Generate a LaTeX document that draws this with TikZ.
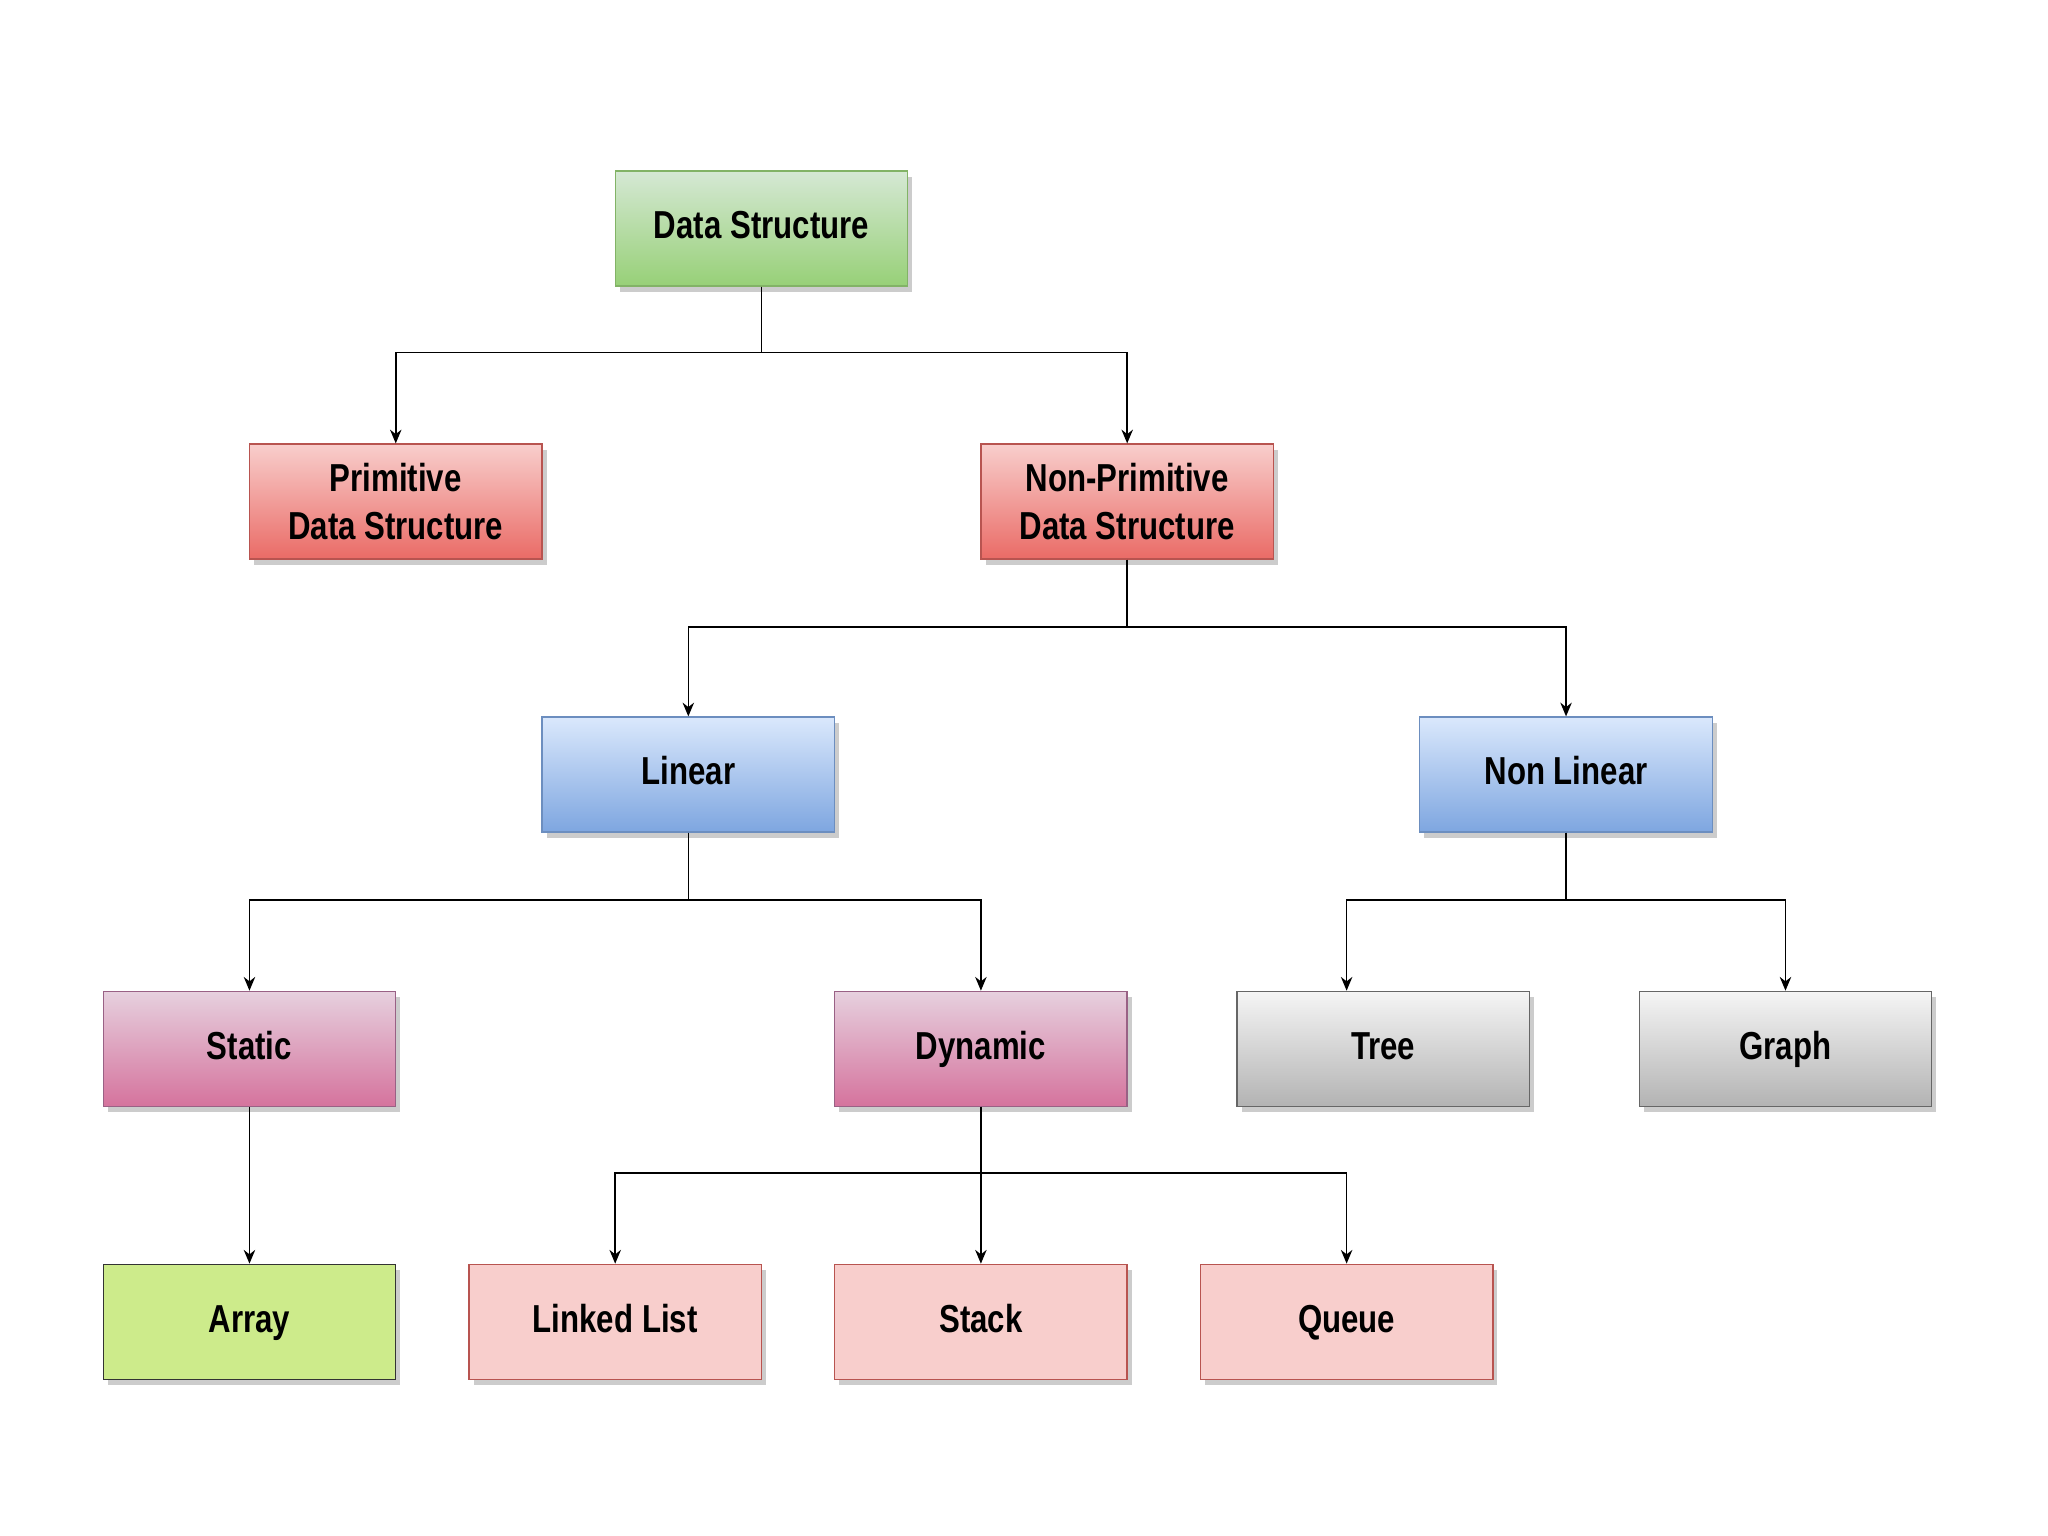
\documentclass[tikz,border=0pt]{standalone}
\usepackage{fontspec}
\setmainfont{Liberation Sans}[FakeStretch=0.8]
\usetikzlibrary{shadows,arrows.meta}
\definecolor{gT}{HTML}{D5E8D4}\definecolor{gB}{HTML}{97D077}\definecolor{gD}{HTML}{82B366}
\definecolor{rT}{HTML}{F8CECC}\definecolor{rB}{HTML}{EA6B66}\definecolor{rD}{HTML}{B85450}
\definecolor{bT}{HTML}{DAE8FC}\definecolor{bB}{HTML}{7EA6E0}\definecolor{bD}{HTML}{6C8EBF}
\definecolor{pT}{HTML}{E6D0DE}\definecolor{pB}{HTML}{D5739D}\definecolor{pD}{HTML}{996185}
\definecolor{yT}{HTML}{F5F5F5}\definecolor{yB}{HTML}{B3B3B3}\definecolor{yD}{HTML}{666666}
\definecolor{aF}{HTML}{CDEB8B}\definecolor{lF}{HTML}{F8CECC}
\begin{document}
\begin{tikzpicture}[x=0.02cm,y=-0.02cm,
 box/.style={minimum width=4.48cm,minimum height=1.76cm,draw,align=center,font=\fontsize{17}{21}\selectfont\bfseries,
   drop shadow={shadow xshift=2pt,shadow yshift=-2.5pt,fill=black!40,opacity=0.5},line width=0.6pt},
 one/.style={text height=12pt,text depth=3pt},
 g/.style={box,one,draw=gD,top color=gT,bottom color=gB},
 r/.style={box,draw=rD,top color=rT,bottom color=rB},
 b/.style={box,one,draw=bD,top color=bT,bottom color=bB},
 p/.style={box,one,draw=pD,top color=pT,bottom color=pB},
 gr/.style={box,one,draw=yD,top color=yT,bottom color=yB},
 lp/.style={box,one,draw=rD,fill=lF},
 ar/.style={box,one,draw=black!80,fill=aF},
 c/.style={draw,line width=0.7pt,-{Stealth[length=6pt,width=5pt]}}]
\useasboundingbox (0,0) rectangle (1568,1176);
\node[g] (ds) at (583,175) {Data Structure};
\node[r] (pr) at (303,384) {Primitive\\Data Structure};
\node[r] (np) at (863,384) {Non-Primitive\\Data Structure};
\node[b] (li) at (527,593) {Linear};
\node[b] (nl) at (1199,593) {Non Linear};
\node[p] (st) at (191,803) {Static};
\node[p] (dy) at (751,803) {Dynamic};
\node[gr] (tr) at (1059,803) {Tree};
\node[gr] (gp) at (1367,803) {Graph};
\node[ar] (ay) at (191,1012) {Array};
\node[lp] (ll) at (471,1012) {Linked List};
\node[lp] (sk) at (751,1012) {Stack};
\node[lp] (qu) at (1031,1012) {Queue};
\draw[c] (ds.south) |- (303,270) -- (pr.north);
\draw[c] (ds.south) |- (863,270) -- (np.north);
\draw[c] (np.south) |- (527,480) -- (li.north);
\draw[c] (np.south) |- (1199,480) -- (nl.north);
\draw[c] (li.south) |- (191,689) -- (st.north);
\draw[c] (li.south) |- (751,689) -- (dy.north);
\draw[c] (nl.south) |- (1031,689) -- (tr.north -| 1031,0);
\draw[c] (nl.south) |- (1367,689) -- (gp.north);
\draw[c] (st.south) -- (ay.north);
\draw[c] (dy.south) |- (471,898) -- (ll.north);
\draw[c] (dy.south) -- (sk.north);
\draw[c] (dy.south) |- (1031,898) -- (qu.north);
\end{tikzpicture}
\end{document}
